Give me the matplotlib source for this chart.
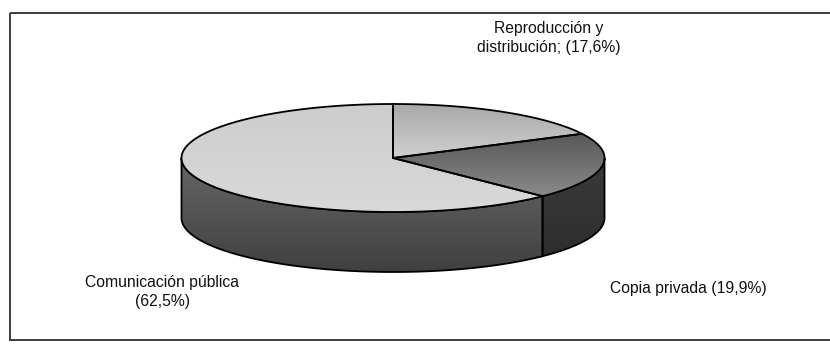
import matplotlib
matplotlib.use("Agg")
import matplotlib.pyplot as plt
import numpy as np
from matplotlib.patches import Polygon, Rectangle

plt.rcParams["font.family"] = ["Liberation Sans", "DejaVu Sans"]

# data
labels = ["Reproducción y\ndistribución; (17,6%)", "Copia privada (19,9%)", "Comunicación pública\n(62,5%)"]
shares = [17.6, 19.9, 62.5]

# style / layout (pixel space)
top_grad = [("#a9a9a9", "#cfcfcf"), ("#585858", "#8a8a8a"), ("#cdcdcd", "#d9d9d9")]
side_grad = [("#555555", "#333333"), ("#3a3a3a", "#2e2e2e"), ("#666666", "#404040")]
label_pos = [(549, 38), (688, 289), (162, 292)]
cx, cy, rx, ry, depth = 393, 158, 211.5, 54, 60

fig = plt.figure(figsize=(8.3, 3.44), dpi=100)
ax = fig.add_axes([0, 0, 1, 1])
ax.set_xlim(0, 830)
ax.set_ylim(344, 0)
ax.axis("off")

ax.add_patch(Rectangle((9.5, 13), 840, 327, fill=False, edgecolor="#3c3c3c", linewidth=1.4))


def rim(theta, dy=0.0):
    return np.column_stack([cx + rx * np.sin(theta), cy - ry * np.cos(theta) + dy])


def gradient_fill(poly, c_top, c_bot):
    verts = poly.get_xy()
    x0, x1 = verts[:, 0].min(), verts[:, 0].max()
    y0, y1 = verts[:, 1].min(), verts[:, 1].max()
    a = np.array(matplotlib.colors.to_rgb(c_top))
    b = np.array(matplotlib.colors.to_rgb(c_bot))
    t = np.linspace(0, 1, 64)[:, None]
    img = (a * (1 - t) + b * t)[:, None, :]
    im = ax.imshow(img, extent=(x0, x1, y1, y0), aspect="auto", interpolation="bilinear", zorder=poly.get_zorder())
    im.set_clip_path(poly)


bounds = np.radians(np.concatenate([[0], np.cumsum(shares)]) * 3.6)

# sides (only the front half, 90..270 degrees, is visible)
for i in range(len(shares)):
    lo = max(bounds[i], np.pi / 2)
    hi = min(bounds[i + 1], 3 * np.pi / 2)
    if hi <= lo:
        continue
    th = np.linspace(lo, hi, 120)
    pts = np.vstack([rim(th), rim(th[::-1], depth)])
    poly = Polygon(pts, closed=True, facecolor="none", edgecolor="none", zorder=2)
    ax.add_patch(poly)
    gradient_fill(poly, *side_grad[i])
    ax.add_patch(Polygon(pts, closed=True, facecolor="none", edgecolor="black", linewidth=1.3, zorder=3))

# top faces
for i in range(len(shares)):
    th = np.linspace(bounds[i], bounds[i + 1], 200)
    pts = np.vstack([[cx, cy], rim(th)])
    poly = Polygon(pts, closed=True, facecolor="none", edgecolor="none", zorder=4)
    ax.add_patch(poly)
    gradient_fill(poly, *top_grad[i])
    ax.add_patch(Polygon(pts, closed=True, facecolor="none", edgecolor="black", linewidth=1.3, zorder=5))

for text, (x, y) in zip(labels, label_pos):
    ax.text(x, y, text, ha="center", va="center", fontsize=11.3, color="#111111", linespacing=1.3)

fig.savefig("out.png", dpi=100)
